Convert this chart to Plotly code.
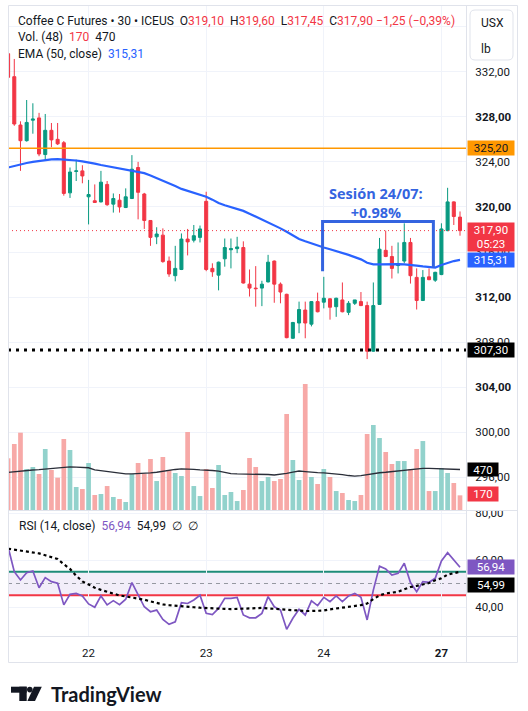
import plotly.graph_objects as go

# ---------------- data ----------------
bar_index = list(range(74))
opens = [333.6, 331.56, 327.27, 325.88, 327.7, 327.9, 324.65, 326.8, 326.0, 325.7,
         321.25, 323.15, 323.2, 320.9, 320.55, 320.45, 322.0, 320.25, 320.6, 319.95,
         320.75, 323.5, 321.15, 318.8, 317.35, 317.5, 315.2, 313.9, 314.45, 317.15,
         317.05, 317.3, 320.5, 314.55, 313.95, 315.4, 316.2, 316.3, 316.4, 313.15,
         312.8, 312.8, 313.35, 315.2, 313.15, 312.25, 308.35, 309.7, 310.85, 309.6,
         311.6, 311.55, 311.85, 311.15, 311.75, 310.65, 311.45, 311.6, 311.25, 307.2,
         311.35, 316.15, 315.6, 314.8, 315.2, 316.85, 313.75, 311.7, 313.8, 313.5,
         314.0, 317.9, 320.45, 319.10]
highs = [334.0, 333.13, 327.6, 329.49, 329.2, 328.35, 328.25, 327.45, 327.45, 325.85,
         323.5, 324.2, 323.7, 322.4, 322.0, 323.2, 322.3, 321.2, 321.15, 321.65,
         324.6, 324.0, 321.25, 318.8, 318.2, 318.1, 315.6, 316.55, 317.65, 318.05,
         318.4, 318.35, 321.35, 315.0, 315.15, 317.2, 317.2, 317.35, 316.95, 314.45,
         314.75, 313.45, 315.75, 315.25, 313.3, 312.3, 309.8, 311.6, 311.6, 311.65,
         312.4, 313.8, 311.9, 311.95, 313.3, 311.65, 311.75, 312.45, 311.6, 313.3,
         317.25, 317.9, 316.55, 316.85, 318.55, 317.25, 314.55, 314.4, 314.55, 314.25,
         318.55, 321.7, 320.5, 319.60]
lows = [331.2, 327.2, 323.2, 325.8, 326.5, 324.5, 324.15, 325.3, 325.5, 321.0,
        320.8, 322.3, 322.1, 318.45, 320.35, 320.4, 320.1, 319.5, 319.5, 319.9,
        320.7, 318.9, 318.05, 316.55, 316.7, 315.05, 313.8, 313.4, 314.4, 315.7,
        316.85, 316.85, 314.3, 313.8, 312.6, 314.7, 314.55, 315.9, 313.2, 312.05,
        311.15, 311.2, 313.3, 311.5, 311.45, 308.35, 308.3, 308.8, 308.35, 309.4,
        310.65, 311.0, 310.0, 310.25, 310.65, 310.4, 311.3, 311.2, 306.5, 307.15,
        311.3, 315.55, 313.65, 314.1, 315.0, 313.2, 310.9, 311.65, 313.5, 313.35,
        313.95, 317.85, 318.4, 317.45]
closes = [331.5, 327.36, 325.88, 327.5, 327.8, 324.7, 326.8, 325.95, 325.6, 321.2,
          323.1, 323.2, 322.75, 321.1, 320.4, 322.2, 320.2, 320.75, 320.0, 320.9,
          323.35, 321.3, 318.8, 317.3, 317.6, 315.15, 314.05, 314.55, 317.15, 316.9,
          317.45, 318.05, 314.45, 314.25, 315.1, 316.4, 316.3, 316.45, 313.25, 312.8,
          312.75, 313.15, 315.1, 313.15, 312.45, 308.4, 309.75, 310.9, 309.7, 311.6,
          310.7, 311.9, 311.1, 311.9, 310.7, 311.45, 311.75, 311.25, 307.2, 311.25,
          316.25, 315.6, 314.55, 314.95, 316.85, 313.9, 311.7, 313.75, 313.55, 314.2,
          318.05, 320.45, 319.15, 317.90]
ema50 = [323.50, 323.65, 323.78, 323.90, 324.00, 324.08, 324.15, 324.22, 324.25, 324.22,
         324.18, 324.12, 324.05, 323.98, 323.85, 323.72, 323.62, 323.50, 323.40, 323.30,
         323.25, 323.15, 323.00, 322.80, 322.58, 322.35, 322.10, 321.85, 321.60, 321.42,
         321.28, 321.12, 320.90, 320.65, 320.35, 320.15, 320.00, 319.85, 319.65, 319.40,
         319.15, 318.90, 318.65, 318.40, 318.10, 317.80, 317.50, 317.15, 316.95, 316.75,
         316.55, 316.40, 316.25, 316.10, 315.95, 315.75, 315.55, 315.35, 315.05, 314.90,
         314.90, 314.92, 314.92, 314.92, 314.90, 314.88, 314.80, 314.72, 314.65, 314.62,
         314.85, 315.05, 315.20, 315.31]
volumes = [600, 766, 897, 476, 499, 418, 708, 464, 375, 824,
           696, 267, 244, 545, 174, 186, 278, 151, 128, 93,
           418, 545, 418, 592, 336, 615, 464, 429, 394, 905,
           278, 162, 476, 255, 522, 174, 209, 104, 232, 603,
           499, 336, 383, 336, 360, 1114, 580, 348, 1462, 383,
           302, 476, 383, 220, 197, 116, 104, 174, 882, 986,
           835, 673, 534, 568, 568, 476, 708, 800, 220, 220,
           487, 429, 313, 170]
vol_ma48 = [437, 445, 452, 458, 464, 468, 474, 480, 488, 498,
            500, 498, 496, 490, 466, 455, 445, 435, 425, 418,
            418, 420, 424, 430, 438, 450, 462, 470, 476, 478,
            472, 466, 465, 458, 450, 432, 421, 418, 418, 418,
            418, 416, 412, 406, 412, 425, 440, 452, 445, 437,
            433, 430, 426, 420, 410, 400, 392, 398, 410, 425,
            432, 438, 445, 452, 460, 470, 480, 484, 482, 478,
            476, 472, 468, 470]
rsi14 = [65.5, 55.0, 51.5, 54.6, 55.3, 48.2, 52.5, 50.8, 50.1, 40.9,
         45.4, 45.8, 44.7, 41.3, 39.9, 44.7, 40.9, 42.7, 41.0, 43.3,
         50.4, 45.1, 40.1, 38.0, 38.7, 34.7, 32.6, 33.7, 41.8, 41.5,
         43.0, 45.0, 37.3, 36.8, 39.4, 43.7, 43.7, 44.1, 36.6, 35.4,
         35.4, 37.3, 44.4, 40.1, 38.7, 30.5, 35.2, 39.0, 36.6, 42.6,
         40.6, 44.1, 42.3, 44.7, 42.3, 44.7, 45.8, 44.1, 34.5, 47.2,
         57.4, 56.2, 53.6, 54.3, 58.6, 50.4, 46.5, 50.8, 50.5, 52.2,
         59.6, 63.1, 60.0, 56.94]
rsi_ma = [64.8, 64.4, 64.1, 63.8, 63.5, 62.8, 62.0, 61.3, 60.4, 58.2,
          56.2, 53.3, 50.9, 49.6, 48.2, 47.3, 46.5, 45.8, 44.9, 44.5,
          44.1, 43.7, 43.1, 42.4, 41.7, 41.1, 40.8, 40.5, 40.2, 40.0,
          39.9, 39.7, 39.5, 39.4, 39.3, 39.2, 39.1, 39.2, 39.4, 39.6,
          39.7, 39.6, 39.4, 39.2, 39.0, 38.8, 38.6, 38.3, 38.3, 38.3,
          38.3, 38.5, 39.0, 39.4, 39.7, 40.0, 40.3, 40.8, 41.5, 43.4,
          44.9, 45.8, 46.1, 46.5, 47.5, 48.5, 49.0, 49.6, 50.2, 51.4,
          52.2, 53.8, 54.5, 54.99]

day_tick_idx = [13, 32, 51, 70]
day_tick_labels = ["22", "23", "24", "<b>27</b>"]
price_ticks = [296, 300, 304, 308, 312, 316, 320, 324, 328, 332, 336]
price_tick_labels = ["296,00", "300,00", "<b>304,00</b>", "308,00", "<b>312,00</b>", "316,00",
                     "<b>320,00</b>", "324,00", "<b>328,00</b>", "332,00", ""]
rsi_ticks = [40, 60, 80]
rsi_tick_labels = ["40,00", "60,00", "80,00"]

level_orange = 325.20
level_last = 317.90
level_black = 307.30
last_time = "05:23"
rsi_upper, rsi_mid, rsi_lower = 55, 50, 45
session_text = "Sesión 24/07:<br>+0.98%"
session_left, session_right = 50.8, 68.7
session_top, session_left_bottom, session_right_bottom = 318.7, 314.3, 314.6

# ---------------- styling ----------------
UP = "#089981"
DN = "#F23645"
VUP = "#92D2CC"
VDN = "#F7A9A7"
GRID = "#F0F3FA"
FRAME = "#E0E3EB"
TXT = "#131722"
FONT = "Roboto"
BLUE = "#2962FF"
PURPLE = "#7E57C2"

W, H = 528, 711
ML, MR, MT, MB = 8, 62, 5, 75
PW, PH = W - ML - MR, H - MT - MB


def PX(x):
    return (x - ML) / PW


def PY(y):
    return (H - MB - y) / PH


price_dom = [PY(510), 1]
rsi_dom = [0, PY(511)]
xr = [-0.016, 73.97]

fig = go.Figure()

vol_colors = [VUP if c >= o else VDN for o, c in zip(opens, closes)]
fig.add_trace(go.Bar(x=bar_index, y=volumes, marker=dict(color=vol_colors, line_width=0),
                     width=0.76, xaxis="x", yaxis="y", hoverinfo="skip"))
fig.add_trace(go.Scatter(x=bar_index, y=vol_ma48, mode="lines",
                         line=dict(color="#2A2E39", width=1.3), xaxis="x", yaxis="y"))
fig.add_trace(go.Candlestick(x=bar_index, open=opens, high=highs, low=lows, close=closes,
                             increasing=dict(line=dict(color=UP, width=1), fillcolor=UP),
                             decreasing=dict(line=dict(color=DN, width=1), fillcolor=DN),
                             whiskerwidth=0, xaxis="x", yaxis="y2"))
fig.add_trace(go.Scatter(x=bar_index, y=ema50, mode="lines",
                         line=dict(color=BLUE, width=2.2), xaxis="x", yaxis="y2"))
fig.add_trace(go.Scatter(x=bar_index, y=rsi14, mode="lines",
                         line=dict(color=PURPLE, width=1.7), xaxis="x2", yaxis="y3"))
fig.add_trace(go.Scatter(x=bar_index, y=rsi_ma, mode="lines",
                         line=dict(color="#000000", width=2.2, dash="3px,3px"),
                         xaxis="x2", yaxis="y3"))

tickfont = dict(family=FONT, size=11.5, color=TXT)
fig.update_layout(
    width=W, height=H, margin=dict(l=ML, r=MR, t=MT, b=MB, autoexpand=False),
    paper_bgcolor="white", plot_bgcolor="white", showlegend=False,
    font=dict(family=FONT, color=TXT),
    xaxis=dict(domain=[0, 1], range=xr, anchor="y", tickvals=day_tick_idx, automargin=False,
               showticklabels=False, showgrid=True, gridcolor=GRID, gridwidth=1,
               zeroline=False, ticks="", rangeslider=dict(visible=False), fixedrange=True),
    xaxis2=dict(domain=[0, 1], range=xr, anchor="y3", tickvals=day_tick_idx, automargin=False,
                ticktext=day_tick_labels, showgrid=True, gridcolor=GRID, zeroline=False,
                ticks="outside", ticklen=6, tickcolor="rgba(0,0,0,0)", tickfont=tickfont),
    yaxis=dict(domain=price_dom, range=[0, 505 * 11.6], visible=False, automargin=False),
    yaxis2=dict(overlaying="y", side="right", anchor="x", range=[293.11, 337.92], automargin=False,
                tickvals=price_ticks, ticktext=price_tick_labels, showgrid=True,
                gridcolor=GRID, zeroline=False, ticks="outside", ticklen=6,
                tickcolor="rgba(0,0,0,0)", tickfont=tickfont),
    yaxis3=dict(domain=rsi_dom, range=[27.66, 80.85], side="right", anchor="x2", automargin=False,
                tickvals=rsi_ticks, ticktext=rsi_tick_labels, showgrid=True,
                gridcolor=GRID, zeroline=False, ticks="outside", ticklen=6,
                tickcolor="rgba(0,0,0,0)", tickfont=tickfont),
)

shapes = []
# RSI band and levels
shapes.append(dict(type="rect", xref="paper", yref="y3", x0=0, x1=1, y0=rsi_lower, y1=rsi_upper,
                   fillcolor="rgba(126,87,194,0.10)", line=dict(width=0), layer="below"))
shapes.append(dict(type="line", xref="paper", yref="y3", x0=0, x1=1, y0=rsi_mid, y1=rsi_mid,
                   line=dict(color="#9598A1", width=1, dash="4px,4px"), layer="below"))
shapes.append(dict(type="line", xref="paper", yref="y3", x0=0, x1=1, y0=rsi_upper, y1=rsi_upper,
                   line=dict(color="#1E8C78", width=2), layer="below"))
shapes.append(dict(type="line", xref="paper", yref="y3", x0=0, x1=1, y0=rsi_lower, y1=rsi_lower,
                   line=dict(color=DN, width=2), layer="below"))
# price levels
shapes.append(dict(type="line", xref="paper", yref="y2", x0=0, x1=1, y0=level_orange, y1=level_orange,
                   line=dict(color="#FF9800", width=1.5), layer="above"))
shapes.append(dict(type="line", xref="paper", yref="y2", x0=0, x1=1, y0=level_last, y1=level_last,
                   line=dict(color=DN, width=1, dash="1px,3px"), layer="above"))
shapes.append(dict(type="line", xref="paper", yref="y2", x0=0, x1=1, y0=level_black, y1=level_black,
                   line=dict(color="#000000", width=3, dash="3px,5px"), layer="above"))
# session bracket
shapes.append(dict(type="path", xref="x", yref="y2",
                   path=f"M {session_left},{session_left_bottom} L {session_left},{session_top} "
                        f"L {session_right},{session_top} L {session_right},{session_right_bottom}",
                   line=dict(color="#3464E0", width=3), layer="above"))

# mask so the top RSI scale label is cut by the pane separator, as in the reference
shapes.append(dict(type="rect", xref="paper", yref="paper", x0=PX(467.5), x1=PX(517),
                   y0=PY(510.5), y1=PY(502), fillcolor="white", line=dict(width=0), layer="above"))


def pline(x0, y0, x1, y1):
    shapes.append(dict(type="line", xref="paper", yref="paper", x0=PX(x0), x1=PX(x1),
                       y0=PY(y0), y1=PY(y1), line=dict(color=FRAME, width=1), layer="above"))


pline(8.5, 5.5, 517.5, 5.5)
pline(8.5, 662.5, 517.5, 662.5)
pline(8.5, 5.5, 8.5, 662.5)
pline(517.5, 5.5, 517.5, 662.5)
pline(466.5, 5.5, 466.5, 662.5)
pline(8.5, 510.5, 517.5, 510.5)
pline(8.5, 636.5, 517.5, 636.5)

# USX / lb unit box (rounded)
bx0, bx1, by0, by1, r = 470, 513, 10, 60, 5
path = (f"M {PX(bx0 + r)},{PY(by0)} L {PX(bx1 - r)},{PY(by0)} Q {PX(bx1)},{PY(by0)} {PX(bx1)},{PY(by0 + r)} "
        f"L {PX(bx1)},{PY(by1 - r)} Q {PX(bx1)},{PY(by1)} {PX(bx1 - r)},{PY(by1)} "
        f"L {PX(bx0 + r)},{PY(by1)} Q {PX(bx0)},{PY(by1)} {PX(bx0)},{PY(by1 - r)} "
        f"L {PX(bx0)},{PY(by0 + r)} Q {PX(bx0)},{PY(by0)} {PX(bx0 + r)},{PY(by0)} Z")
shapes.append(dict(type="path", xref="paper", yref="paper", path=path,
                   fillcolor="white", line=dict(color=FRAME, width=1), layer="above"))


def prect(x0, y0, x1, y1):
    shapes.append(dict(type="rect", xref="paper", yref="paper", x0=PX(x0), x1=PX(x1),
                       y0=PY(y1), y1=PY(y0), fillcolor="#131722", line=dict(width=0), layer="above"))


# TradingView logo glyph
prect(11, 686.7, 26.7, 692.7)
prect(19.3, 686.7, 26.7, 701)
shapes.append(dict(type="circle", xref="paper", yref="paper", x0=PX(27.0), x1=PX(32.6),
                   y0=PY(692.4), y1=PY(686.8), fillcolor="#131722", line=dict(width=0), layer="above"))
shapes.append(dict(type="path", xref="paper", yref="paper",
                   path=f"M {PX(34.0)},{PY(686.7)} L {PX(41.8)},{PY(686.7)} L {PX(35.0)},{PY(701)} "
                        f"L {PX(27.4)},{PY(701)} Z",
                   fillcolor="#131722", line=dict(width=0), layer="above"))
fig.update_layout(shapes=shapes)

ann = []
NB = "\u00a0"


def red(s):
    return f'<span style="color:{DN}">{s}</span>'


header1 = (f"Coffee C Futures • 30 • ICEUS{NB*2}O{red('319,10')}{NB*2}H{red('319,60')}"
           f"{NB*2}L{red('317,45')}{NB*2}C{red('317,90')}{NB}{red('−1,25 (−0,39%)')}")
HF = dict(family=FONT, size=12, color=TXT)
ann.append(dict(xref="paper", yref="paper", x=PX(16), y=PY(21), xanchor="left", yanchor="middle",
                text=header1, showarrow=False, font=HF))
ann.append(dict(xref="paper", yref="paper", x=PX(16), y=PY(37.5), xanchor="left", yanchor="middle",
                text=f"Vol. (48){NB*2}{red('170')}{NB*2}470", showarrow=False, font=HF))
ann.append(dict(xref="paper", yref="paper", x=PX(16), y=PY(54), xanchor="left", yanchor="middle",
                text=f'EMA (50, close){NB*2}<span style="color:{BLUE}">315,31</span>', showarrow=False,
                font=HF))
ann.append(dict(xref="paper", yref="paper", x=PX(17), y=PY(526), xanchor="left", yanchor="middle",
                text=f'RSI (14, close){NB*2}<span style="color:{PURPLE}">56,94</span>{NB*2}54,99{NB*2}∅{NB*2}∅',
                showarrow=False, font=HF))
# unit box text
ann.append(dict(xref="paper", yref="paper", x=PX(479), y=PY(23), xanchor="left", yanchor="middle",
                text="USX", showarrow=False, font=dict(family=FONT, size=12, color=TXT)))
ann.append(dict(xref="paper", yref="paper", x=PX(479), y=PY(48.5), xanchor="left", yanchor="middle",
                text="lb", showarrow=False, font=dict(family=FONT, size=12, color=TXT)))
# session text
ann.append(dict(xref="x", yref="y2", x=59.4, y=320.35, text=f"<b>{session_text}</b>", showarrow=False,
                align="center", font=dict(family="Open Sans", size=14.5, color="#3464E0")))


def label(y, yref, text, bg, fg="white", w=46, h=14, yshift=0, yanchor="middle"):
    ann.append(dict(xref="paper", yref=yref, x=PX(467), y=y, xanchor="left", yanchor=yanchor,
                    text=text, showarrow=False, bgcolor=bg, width=w, height=h, borderpad=0,
                    align="center", yshift=yshift, font=dict(family=FONT, size=11.5, color=fg)))


label(level_orange, "y2", "325,20", "#FF9800", fg=TXT)
label(level_last, "y2", f"{'317,90'}<br>{last_time}", DN, h=28, yanchor="top", yshift=8.5)
label(ema50[-1], "y2", "315,31", BLUE)
label(level_black, "y2", "307,30", "#000000")
label(vol_ma48[-1], "y", "470", "#000000", w=30, h=13)
label(volumes[-1], "y", "170", DN, w=30, h=14, yshift=1.5)
label(rsi14[-1], "y3", "56,94", PURPLE)
label(rsi_ma[-1], "y3", "54,99", "#000000", yshift=-13.5)

ann.append(dict(xref="paper", yref="paper", x=PX(48.5), y=PY(694), xanchor="left", yanchor="middle",
                text="<b>TradingView</b>", showarrow=False, font=dict(family="Lato", size=20, color="#131722")))
fig.update_layout(annotations=ann)

fig.write_html("out.html")
